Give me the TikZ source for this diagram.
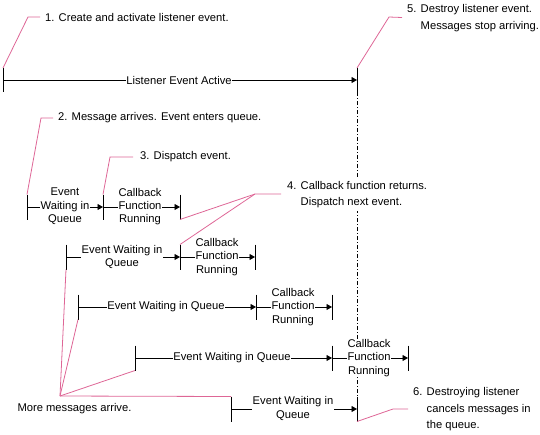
\documentclass[tikz,border=0pt]{standalone}
\usepackage{fontspec}
\setmainfont{Liberation Sans}
\usetikzlibrary{arrows.meta}
\definecolor{callout}{RGB}{222,102,150}
\begin{document}
\begin{tikzpicture}[x=1pt,y=-1pt,
  font=\fontsize{11.2}{13}\selectfont,
  bar/.style={line width=0.9pt},
  flow/.style={line width=0.9pt,-{Triangle[length=5.5pt,width=6pt]}},
  phase/.style={fill=white,inner sep=0.8pt,align=center,font=\fontsize{11.2}{13.3}\selectfont},
  note/.style={anchor=west,inner sep=0pt,font=\fontsize{11.2}{16.5}\selectfont},
  pink/.style={draw=callout,line width=0.8pt},
  life/.style={line width=0.9pt,dash pattern=on 4pt off 2pt on 1pt off 2pt}]
\useasboundingbox (0,0) rectangle (540,434);

% bar positions
\coordinate (t0) at (3,80);
\coordinate (t1) at (357,80);
\coordinate (r1a) at (27,207);
\coordinate (r1b) at (103,207);
\coordinate (r1c) at (180,207);
\coordinate (r2a) at (66,257);
\coordinate (r2b) at (180,257);
\coordinate (r2c) at (255,257);
\coordinate (r3a) at (78,307);
\coordinate (r3b) at (256,307);
\coordinate (r3c) at (332,307);
\coordinate (r4a) at (135,358);
\coordinate (r4b) at (332,358);
\coordinate (r4c) at (408,358);
\coordinate (r5a) at (231,409);
\coordinate (r5b) at (357,409);

% lifeline
\draw[life] ([yshift=-12pt]t1) -- ([yshift=12.5pt]r5b);

% bars
\foreach \b in {t0,t1}
  \draw[bar] ([yshift=12pt]\b) -- ([yshift=-12pt]\b);
\foreach \b in {r1a,r1b,r1c,r2a,r2b,r2c,r3a,r3b,r3c,r4a,r4b,r4c,r5a,r5b}
  \draw[bar] ([yshift=12.5pt]\b) -- ([yshift=-12.5pt]\b);

% flows
\draw[flow] (t0) -- (t1);
\draw[flow] (r1a) -- (r1b);
\draw[flow] (r1b) -- (r1c);
\draw[flow] (r2a) -- (r2b);
\draw[flow] (r2b) -- (r2c);
\draw[flow] (r3a) -- (r3b);
\draw[flow] (r3b) -- (r3c);
\draw[flow] (r4a) -- (r4b);
\draw[flow] (r4b) -- (r4c);
\draw[flow] (r5a) -- (r5b);

% phase labels
\node[phase] (lact) at (179,80) {Listener Event Active};
\node[phase] (w1) at (65,206.5) {Event\\Waiting in\\Queue};
\node[phase] (f1) at (140,206.5) {Callback\\Function\\Running};
\node[phase] (w2) at (122,257) {Event Waiting in\\Queue};
\node[phase] (f2) at (217,257) {Callback\\Function\\Running};
\node[phase] (w3) at (166,307) {Event Waiting in Queue};
\node[phase] (f3) at (293,307) {Callback\\Function\\Running};
\node[phase] (w4) at (232,358) {Event Waiting in Queue};
\node[phase] (f4) at (369,358) {Callback\\Function\\Running};
\node[phase] (w5) at (293,408.5) {Event Waiting in\\Queue};

% callout texts
\node[note] (c1) at (45,17) {1. Create and activate listener event.};
\node[note] (c5) at (407,17.5) {\begin{tabular}{@{}l@{ }l@{}}5.&Destroy listener event.\\&Messages stop arriving.\end{tabular}};
\node[note] (c2) at (58,118) {2. Message arrives. Event enters queue.};
\node[note] (c3) at (140,157) {3. Dispatch event.};
\node[note,fill=white] (c4) at (287,194) {\begin{tabular}{@{}l@{ }l@{}}4.&Callback function returns.\\&Dispatch next event.\end{tabular}};
\node[note] (c6) at (413,409) {\begin{tabular}{@{}l@{ }l@{}}6.&Destroying listener\\&cancels messages in\\&the queue.\end{tabular}};
\node[inner sep=0pt] (more) at (74.5,409) {More messages arrive.};

% callout elbows
\coordinate (e1) at (28,17);
\coordinate (e5) at (389,17);
\coordinate (e2) at (41,118);
\coordinate (e3) at (110,157);
\coordinate (e4) at (255,194);
\coordinate (e6) at (393,409);
\coordinate (hub) at (60,396);

% callout leaders
\draw[pink] ([yshift=12pt]t0) -- (e1) -- ([xshift=-5pt]c1.west);
\draw[pink] ([yshift=12pt]t1) -- (e5) -- ([xshift=-5pt]c5.west);
\draw[pink] ([yshift=12.5pt]r1a) -- (e2) -- ([xshift=-5pt]c2.west);
\draw[pink] ([yshift=12.5pt]r1b) -- (e3) -- ([xshift=-7pt]c3.west);
\draw[pink] ([yshift=-12.5pt]r1c) -- (e4) -- ([xshift=-6pt]c4.west);
\draw[pink] ([yshift=12.5pt]r2b) -- (e4);
\draw[pink] ([yshift=-12.5pt]r5b) -- (e6) -- ([xshift=-5pt]c6.west);
\draw[pink] (hub) -- ([yshift=-12.5pt]r2a);
\draw[pink] (hub) -- ([yshift=-12.5pt]r3a);
\draw[pink] (hub) -- ([yshift=-12.5pt]r4a);
\draw[pink] (hub) -- ([yshift=12.5pt]r5a);
\end{tikzpicture}
\end{document}
